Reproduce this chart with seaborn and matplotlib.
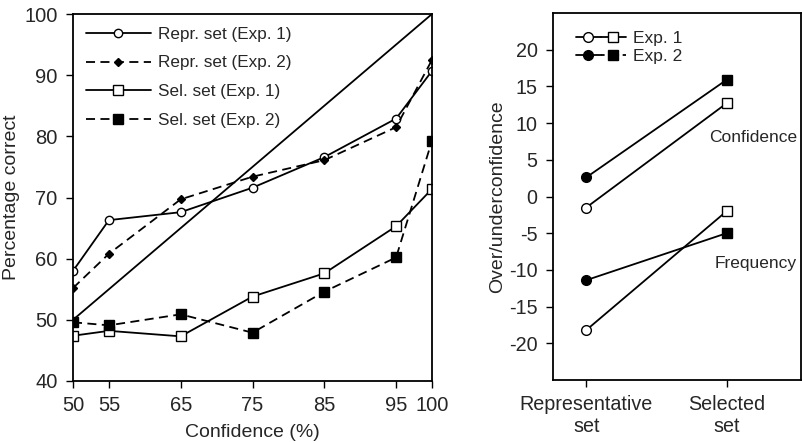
import matplotlib
matplotlib.use("Agg")
import matplotlib.pyplot as plt
import seaborn as sns
import pandas as pd
from matplotlib.lines import Line2D
from matplotlib.legend_handler import HandlerTuple

# ---- data (left panel) ----
confidence = [50, 55, 65, 75, 85, 95, 100]
repr_exp1 = [58.0, 66.3, 67.6, 71.6, 76.6, 82.9, 90.7]
repr_exp2 = [55.2, 60.8, 69.7, 73.4, 76.1, 81.5, 92.5]
sel_exp1 = [47.4, 48.2, 47.3, 53.8, 57.6, 65.3, 71.4]
sel_exp2 = [49.6, 49.1, 50.9, 47.9, 54.6, 60.2, 79.3]
diag = [50, 100]
left_ticks_y = [40, 50, 60, 70, 80, 90, 100]

# ---- data (right panel) ----
set_labels = ["Representative\nset", "Selected\nset"]
conf_exp1 = [-1.5, 12.7]
conf_exp2 = [2.6, 15.9]
freq_exp1 = [-18.2, -2.0]
freq_exp2 = [-11.4, -5.0]
right_ticks_y = [-20, -15, -10, -5, 0, 5, 10, 15, 20]

sns.set_theme(style="ticks")
plt.rcParams['font.family'] = ['Liberation Sans', 'DejaVu Sans']
plt.rcParams['axes.unicode_minus'] = False

fig = plt.figure(figsize=(8.03, 4.43), dpi=100)
W, H = 803, 443
ax1 = fig.add_axes([73 / W, (H - 381) / H, (432 - 73) / W, (381 - 14) / H])
ax2 = fig.add_axes([553 / W, (H - 380) / H, (801 - 553) / W, (380 - 13) / H])

lw = 1.3
# Left panel
sns.lineplot(x=diag, y=diag, ax=ax1, color="black", lw=lw, legend=False)
series = [
    ("Repr. set (Exp. 1)", repr_exp1, "-", "o", "white", 6),
    ("Repr. set (Exp. 2)", repr_exp2, (0, (5, 3)), "D", "black", 4.5),
    ("Sel. set (Exp. 1)", sel_exp1, "-", "s", "white", 7),
    ("Sel. set (Exp. 2)", sel_exp2, (0, (5, 3)), "s", "black", 7),
]
handles = []
for name, vals, ls, mk, fc, ms in series:
    df = pd.DataFrame({"x": confidence, "y": vals})
    sns.lineplot(data=df, x="x", y="y", ax=ax1, color="black", lw=lw,
                 linestyle=ls, marker=mk, markersize=ms,
                 markerfacecolor=fc, markeredgecolor="black",
                 markeredgewidth=1.0, legend=False)
    handles.append(Line2D([], [], color="black", lw=lw, linestyle=ls,
                          marker=mk, markersize=ms, markerfacecolor=fc,
                          markeredgecolor="black", markeredgewidth=1.0,
                          label=name))
ax1.set_xlim(50, 100)
ax1.set_ylim(40, 100)
ax1.set_xticks(confidence)
ax1.set_yticks(left_ticks_y)
ax1.tick_params(labelsize=14.5, length=5, width=1, direction="out",
                color="black", pad=6)
ax1.set_xlabel("Confidence (%)", fontsize=14, labelpad=6)
ax1.set_ylabel("Percentage correct", fontsize=14, labelpad=3)
ax1.legend(handles=handles, loc="upper left", frameon=False,
           fontsize=12.3, handlelength=3.8, handletextpad=0.45,
           labelspacing=0.8, borderaxespad=0.35,
           bbox_to_anchor=(0.0, 1.0))
for s in ax1.spines.values():
    s.set_linewidth(1.3)
    s.set_color("black")

# Right panel
xpos = [0, 1]
for vals, fc in [(conf_exp1, "white"), (conf_exp2, "black"),
                 (freq_exp1, "white"), (freq_exp2, "black")]:
    sns.lineplot(x=xpos, y=vals, ax=ax2, color="black", lw=lw, legend=False)
    ax2.plot([xpos[0]], [vals[0]], marker="o", ms=7, mfc=fc, mec="black",
             mew=1.0, ls="none")
    ax2.plot([xpos[1]], [vals[1]], marker="s", ms=7, mfc=fc, mec="black",
             mew=1.0, ls="none")
ax2.set_xlim(-0.237, 1.53)
ax2.set_ylim(-25, 25)
ax2.set_yticks(right_ticks_y)
ax2.set_xticks(xpos)
ax2.set_xticklabels(set_labels, linespacing=1.15)
ax2.tick_params(labelsize=14.2, length=5, width=1, direction="out",
                color="black", pad=6)
ax2.set_ylabel("Over/underconfidence", fontsize=14, labelpad=2)
ax2.text(1.19, 8.1, "Confidence", fontsize=12.5, ha="center", va="center")
ax2.text(1.21, -9.1, "Frequency", fontsize=12.5, ha="center", va="center")

h1 = (Line2D([], [], color="black", lw=lw, marker="o", ms=7, mfc="white", mec="black"),
      Line2D([], [], color="black", lw=lw, marker="s", ms=7, mfc="white", mec="black"))
h2 = (Line2D([], [], color="black", lw=lw, marker="o", ms=7, mfc="black", mec="black"),
      Line2D([], [], color="black", lw=lw, ls=(0, (2, 2)), marker="s", ms=7, mfc="black", mec="black"))
ax2.legend([h1, h2], ["Exp. 1", "Exp. 2"], loc="upper left", frameon=False,
           fontsize=12.5, handler_map={tuple: HandlerTuple(ndivide=None, pad=0)},
           handlelength=2.9, handletextpad=0.4, labelspacing=0.2,
           borderaxespad=0.4, bbox_to_anchor=(0.035, 0.99))
for s in ax2.spines.values():
    s.set_linewidth(1.3)
    s.set_color("black")

fig.savefig("out.png", dpi=100)
